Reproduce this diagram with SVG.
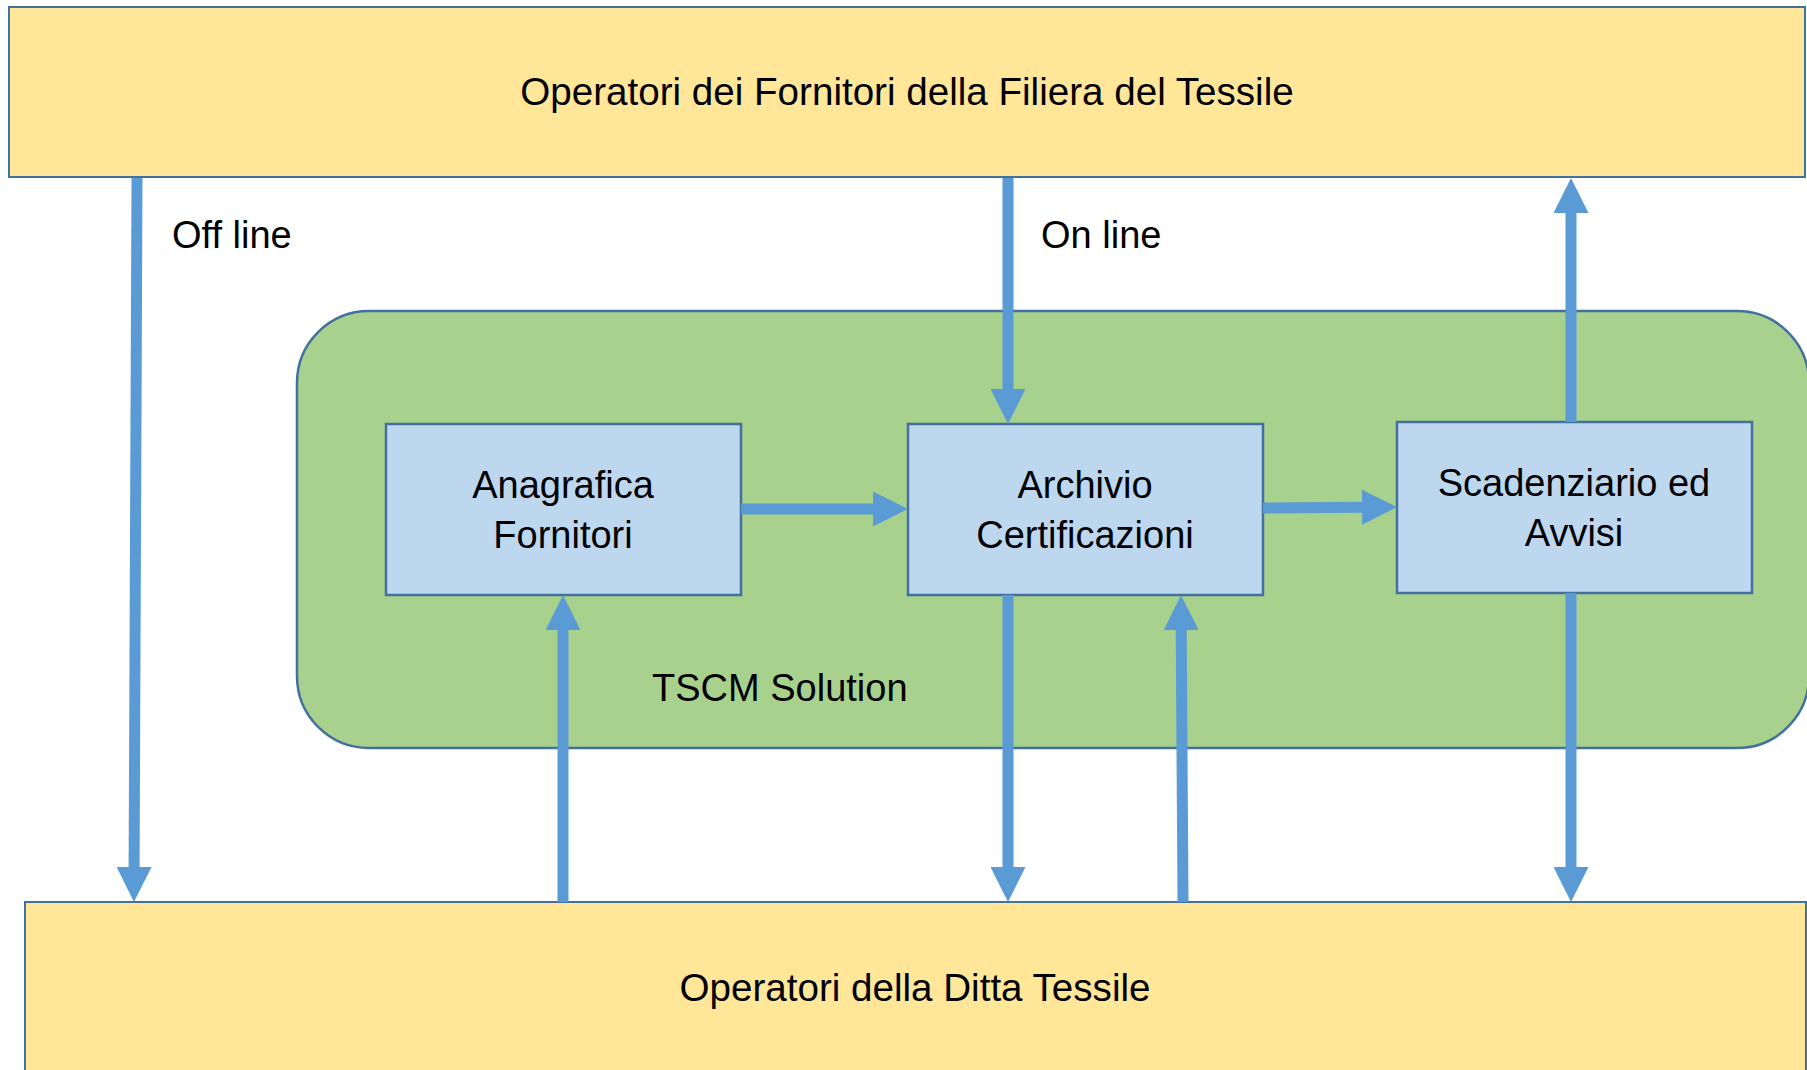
<svg xmlns="http://www.w3.org/2000/svg" width="1807" height="1070" viewBox="0 0 1807 1070">
<defs>
<style>
.band{fill:#FFE699;stroke:#41719C;stroke-width:2}
.box{fill:#BDD7EE;stroke:#41719C;stroke-width:2.5}
.sol{fill:#A9D18E;stroke:#41719C;stroke-width:2.5}
text{font-family:"Liberation Sans",Arial,sans-serif;font-size:38px;fill:#000}
.big{font-size:38.6px}
.c{text-anchor:middle}
.conn{stroke:#5B9BD5;stroke-width:11;fill:none;marker-end:url(#ah)}
</style>
<marker id="ah" viewBox="0 0 35 35" refX="0" refY="17.5" markerWidth="35" markerHeight="35" markerUnits="userSpaceOnUse" orient="auto">
<path d="M0,0 L35,17.5 L0,35 Z" fill="#5B9BD5"/>
</marker>
</defs>
<g id="fornitori">
<rect class="band" x="9" y="7" width="1796" height="170"/>
<text class="c big" x="907" y="105">Operatori dei Fornitori della Filiera del Tessile</text>
</g>
<g id="ditta">
<rect class="band" x="25" y="902" width="1781" height="172"/>
<text class="c big" x="915" y="1001">Operatori della Ditta Tessile</text>
</g>
<g id="tscm">
<rect class="sol" x="297" y="311" width="1512" height="437" rx="72" ry="72"/>
<text x="652" y="701">TSCM Solution</text>
</g>
<g id="anagrafica">
<rect class="box" x="386" y="424" width="355" height="171"/>
<text class="c" x="563" y="498">Anagrafica</text>
<text class="c" x="563" y="548">Fornitori</text>
</g>
<g id="archivio">
<rect class="box" x="908" y="424" width="355" height="171"/>
<text class="c" x="1085" y="498">Archivio</text>
<text class="c" x="1085" y="548">Certificazioni</text>
</g>
<g id="scadenziario">
<rect class="box" x="1397" y="422" width="355" height="171"/>
<text class="c" x="1574" y="496">Scadenziario ed</text>
<text class="c" x="1574" y="546">Avvisi</text>
</g>
<g id="labels">
<text x="172" y="248">Off line</text>
<text x="1041" y="248">On line</text>
</g>
<g id="connectors">
<line class="conn" x1="137" y1="178" x2="134.1" y2="867"/>
<line class="conn" x1="1008" y1="178" x2="1008" y2="389"/>
<line class="conn" x1="741" y1="509" x2="873" y2="509"/>
<line class="conn" x1="1263" y1="508" x2="1362" y2="507.3"/>
<line class="conn" x1="1571" y1="422" x2="1571" y2="213"/>
<line class="conn" x1="563" y1="902" x2="563" y2="630"/>
<line class="conn" x1="1008" y1="595" x2="1008" y2="867"/>
<line class="conn" x1="1183" y1="902" x2="1181.2" y2="630"/>
<line class="conn" x1="1571" y1="593" x2="1571" y2="867"/>
</g>
</svg>
